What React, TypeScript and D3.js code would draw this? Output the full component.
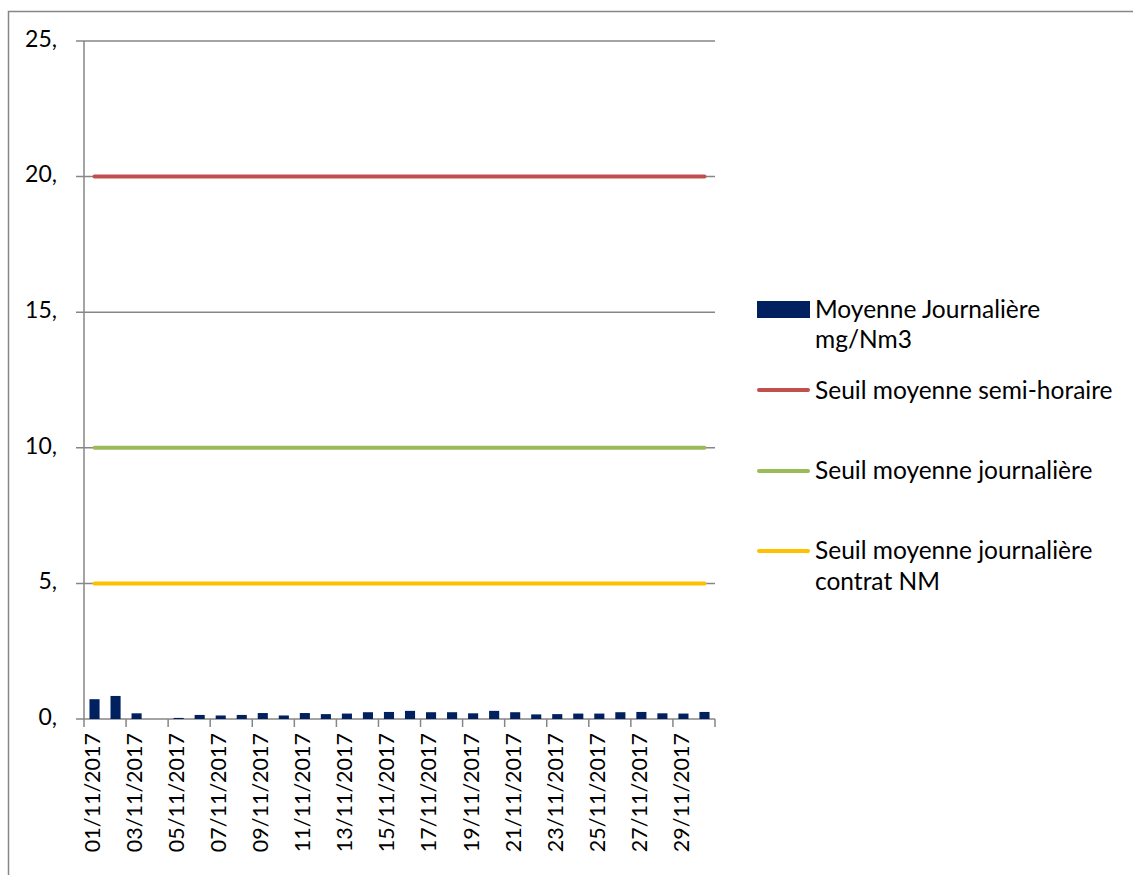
import React from "react";
import * as d3 from "d3";

const categories = [
  "01/11/2017","02/11/2017","03/11/2017","04/11/2017","05/11/2017","06/11/2017",
  "07/11/2017","08/11/2017","09/11/2017","10/11/2017","11/11/2017","12/11/2017",
  "13/11/2017","14/11/2017","15/11/2017","16/11/2017","17/11/2017","18/11/2017",
  "19/11/2017","20/11/2017","21/11/2017","22/11/2017","23/11/2017","24/11/2017",
  "25/11/2017","26/11/2017","27/11/2017","28/11/2017","29/11/2017","30/11/2017",
];
const moyenneJournaliere = [
  0.73, 0.85, 0.21, 0, 0.04, 0.15, 0.13, 0.15, 0.22, 0.13, 0.22, 0.18,
  0.2, 0.25, 0.26, 0.3, 0.25, 0.25, 0.21, 0.3, 0.25, 0.17, 0.18, 0.2,
  0.2, 0.25, 0.26, 0.21, 0.2, 0.26,
];
const seuilSemiHoraire = 20;
const seuilJournaliere = 10;
const seuilContratNM = 5;
const yTicks = [0, 5, 10, 15, 20, 25];
const yTickLabels = ["0,", "5,", "10,", "15,", "20,", "25,"];

const FONT = "Lato, 'Open Sans', sans-serif";
const GRID = "#868686";

export default function App() {
  const left = 84, right = 715, top = 41, bottom = 719;
  const x = d3.scaleBand<string>().domain(categories).range([left, right]).paddingInner(0.52).paddingOuter(0.26);
  const xc = d3.scaleBand<string>().domain(categories).range([left, right]).padding(0);
  const y = d3.scaleLinear().domain([0, 25]).range([bottom, top]);
  const step = xc.step();
  const lineX0 = xc(categories[0])! + step / 2;
  const lineX1 = xc(categories[categories.length - 1])! + step / 2;
  const thresholds = [
    { v: seuilSemiHoraire, c: "#C0504D" },
    { v: seuilJournaliere, c: "#9BBB59" },
    { v: seuilContratNM, c: "#FFC000" },
  ];
  const tickIdx = d3.range(0, categories.length + 1, 2);
  return (
    <svg width={1133} height={875} style={{ position: "absolute", left: 0, top: 0, background: "#fff" }} fontFamily={FONT}>
      <rect x={8.5} y={11.5} width={1140} height={880} fill="#fff" stroke={GRID} strokeWidth={1.5} />
      {yTicks.map((t, i) => (
        <g key={t}>
          <line x1={76} x2={right} y1={y(t)} y2={y(t)} stroke={GRID} strokeWidth={1.5} />
          <text x={57} y={y(t)} textAnchor="end" dominantBaseline="middle" fontSize={23} fill="#000">{yTickLabels[i]}</text>
        </g>
      ))}
      <line x1={left} x2={left} y1={top} y2={bottom} stroke={GRID} strokeWidth={1.5} />
      {tickIdx.map((i) => (
        <line key={i} x1={left + i * step} x2={left + i * step} y1={bottom} y2={bottom + 8} stroke={GRID} strokeWidth={1.5} />
      ))}
      {moyenneJournaliere.map((v, i) => (
        <rect key={i} x={x(categories[i])} y={y(v)} width={x.bandwidth()} height={bottom - y(v)} fill="#002060" />
      ))}
      {thresholds.map((t) => (
        <line key={t.c} x1={lineX0} x2={lineX1} y1={y(t.v)} y2={y(t.v)} stroke={t.c} strokeWidth={4} strokeLinecap="round" />
      ))}
      {categories.map((c, i) =>
        i % 2 === 0 ? (
          <text key={c} transform={`translate(${xc(c)! + step / 2},733) rotate(-90)`} textAnchor="end" dominantBaseline="middle" fontSize={21.5} fill="#000">{c}</text>
        ) : null
      )}
      <g fontSize={24.5} fill="#000">
        <rect x={757} y={301} width={53} height={17} fill="#002060" />
        <text x={815} y={318}>Moyenne Journalière</text>
        <text x={815} y={348}>mg/Nm3</text>
        <line x1={759} x2={808} y1={390} y2={390} stroke="#C0504D" strokeWidth={4} strokeLinecap="round" />
        <text x={815} y={399}>Seuil moyenne semi-horaire</text>
        <line x1={759} x2={808} y1={471} y2={471} stroke="#9BBB59" strokeWidth={4} strokeLinecap="round" />
        <text x={815} y={479}>Seuil moyenne journalière</text>
        <line x1={759} x2={808} y1={551} y2={551} stroke="#FFC000" strokeWidth={4} strokeLinecap="round" />
        <text x={815} y={559}>Seuil moyenne journalière</text>
        <text x={815} y={590}>contrat NM</text>
      </g>
    </svg>
  );
}
